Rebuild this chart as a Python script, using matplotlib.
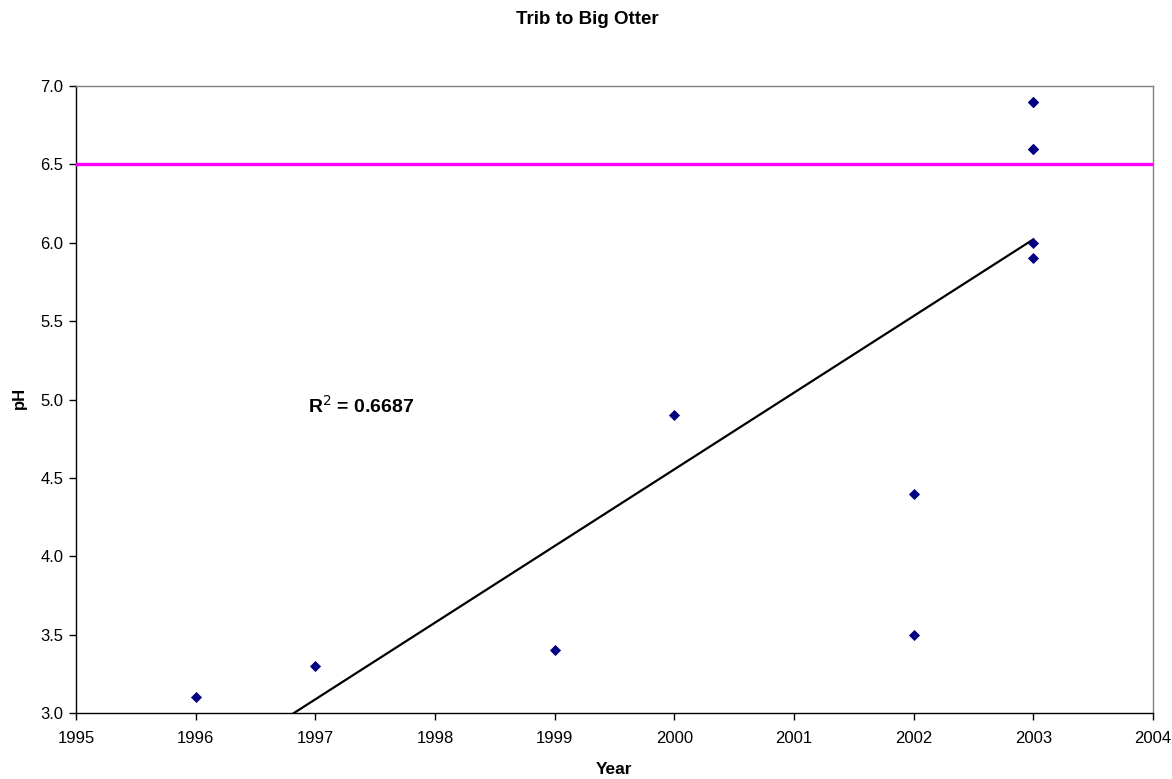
import numpy as np
import matplotlib
matplotlib.use("Agg")
import matplotlib.pyplot as plt

plt.rcParams['font.family'] = ['Liberation Sans', 'DejaVu Sans']

years = [1996, 1997, 1999, 2000, 2002, 2002, 2003, 2003, 2003, 2003, 2003, 2003]
ph = [3.1, 3.3, 3.4, 4.9, 4.4, 3.5, 6.9, 6.9, 6.6, 6.6, 6.0, 5.9]
standard = 6.5
r2_label = "R$^2$ = 0.6687"
xticks = list(range(1995, 2005))
yticks = [3.0, 3.5, 4.0, 4.5, 5.0, 5.5, 6.0, 6.5, 7.0]

fig = plt.figure(figsize=(11.72, 7.79), dpi=100)
ax = fig.add_axes([76/1172, 1-713/779, (1153-76)/1172, (713-86)/779])

x = np.array(years, dtype=float)
y = np.array(ph)
slope, inter = np.polyfit(x, y, 1)
xl = np.array([x.min(), x.max()])
ax.plot(xl, slope*xl + inter, color='black', lw=1.6, zorder=2)
ax.axhline(standard, color='#FF00FF', lw=2.4, zorder=3)
ax.scatter(x, y, marker='D', s=32, color='#000080', zorder=4, linewidths=0)

ax.set_xlim(1995, 2004)
ax.set_ylim(3.0, 7.0)
ax.set_xticks(xticks)
ax.set_yticks(yticks)
ax.set_yticklabels([f"{v:.1f}" for v in yticks])
ax.tick_params(direction='out', length=5, width=1, labelsize=12, color='black')
ax.tick_params(axis='x', pad=8)
ax.tick_params(axis='y', pad=4)
for s in ['left', 'bottom']:
    ax.spines[s].set_color('black')
    ax.spines[s].set_linewidth(1)
for s in ['top', 'right']:
    ax.spines[s].set_color('#808080')
    ax.spines[s].set_linewidth(1)

ax.text(1996.94, 4.914, r2_label, fontsize=14, fontweight='bold', ha='left', va='baseline')
fig.text(587/1172, 1-20/779, "Trib to Big Otter", fontsize=13.5, fontweight='bold', ha='center', va='center')
fig.text(614/1172, 1-769/779, "Year", fontsize=12.5, fontweight='bold', ha='center', va='center')
fig.text(19/1172, 1-398/779, "pH", fontsize=12, fontweight='bold', ha='center', va='center', rotation=90)

fig.savefig("out.png", dpi=100)
